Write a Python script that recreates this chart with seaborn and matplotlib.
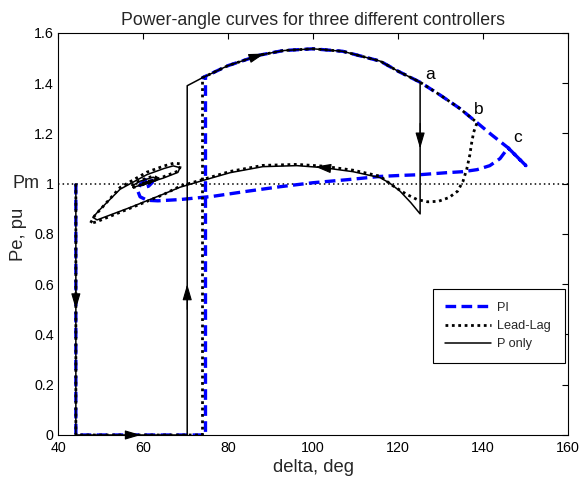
import numpy as np
import pandas as pd
import matplotlib
matplotlib.use("Agg")
import matplotlib.pyplot as plt
import seaborn as sns

# ---------------- data ----------------
start_delta = 44.2
start_pe = 1.0
jump_delta_p = 70.4
jump_delta_ll = 74.0
jump_delta_pi = 74.7

# shared post-fault upper curve
upper_delta = [74.0, 80.0, 87.5, 93.0, 100.0, 107.0, 115.8, 120.0, 125.2,
               130.0, 134.5, 138.6, 142.0, 145.9, 150.1]
upper_pe = [1.422, 1.470, 1.512, 1.530, 1.537, 1.527, 1.488, 1.448, 1.404,
            1.352, 1.300, 1.243, 1.195, 1.143, 1.072]

# P only: return path after the switch at a
ponly_ret_delta = [125.2, 123.0, 120.5, 118.0, 115.8, 109.4, 102.4, 96.2, 88.2,
                   80.5, 74.1, 68.7, 64.7, 56.9, 49.2,
                   48.2, 49.9, 54.6, 60.9, 65.0, 67.1, 68.7, 68.2, 64.7, 60.9,
                   57.6, 57.8, 59.3, 62.4, 63.3, 61.5, 59.6, 60.6, 61.6]
ponly_ret_pe = [0.880, 0.925, 0.970, 1.003, 1.024, 1.048, 1.064, 1.072, 1.068,
                1.044, 1.013, 0.986, 0.958, 0.905, 0.856,
                0.866, 0.898, 0.978, 1.036, 1.061, 1.071, 1.064, 1.045, 1.022, 1.002,
                0.985, 0.995, 1.010, 1.026, 1.017, 1.003, 0.996, 1.006, 1.010]

# Lead-Lag: return path after b
ll_ret_delta = [138.6, 137.8, 137.3, 136.9, 136.2, 135.3, 134.0, 132.0, 129.5,
                127.0, 124.5, 122.0, 118.5, 115.8, 109.4, 102.4, 96.2, 88.2,
                80.5, 74.1, 68.7, 64.7, 56.9, 49.0,
                47.6, 48.6, 50.2, 54.6, 60.9, 65.0, 67.3, 68.9, 68.5, 64.7,
                60.9, 57.3, 57.6, 59.3, 62.5, 63.6, 61.6, 59.4, 60.5, 61.8]
ll_ret_pe = [1.243, 1.205, 1.160, 1.115, 1.060, 1.010, 0.970, 0.945, 0.930,
             0.928, 0.937, 0.958, 0.995, 1.030, 1.054, 1.070, 1.077, 1.073,
             1.049, 1.017, 0.990, 0.956, 0.902, 0.848,
             0.842, 0.872, 0.902, 0.985, 1.046, 1.071, 1.082, 1.079, 1.052, 1.027,
             1.005, 0.982, 0.996, 1.013, 1.031, 1.020, 1.003, 0.994, 1.007, 1.012]

# PI: return path after c
pi_ret_delta = [145.9, 144.0, 141.6, 138.6, 135.3, 131.5, 125.2, 120.5, 115.8,
                108.0, 100.0, 92.2, 84.5, 76.5, 68.7, 63.5, 61.0, 59.3, 58.8,
                59.4, 60.6, 62.0, 62.2, 61.3, 60.2, 59.8, 60.6, 61.4]
pi_ret_pe = [1.143, 1.100, 1.072, 1.056, 1.048, 1.044, 1.036, 1.033, 1.029,
             1.016, 1.004, 0.988, 0.970, 0.950, 0.937, 0.932, 0.934, 0.948, 0.970,
             0.998, 1.016, 1.020, 1.005, 0.990, 0.985, 0.998, 1.008, 1.002]

pm_value = 1.0
x_ticks = [40, 60, 80, 100, 120, 140, 160]
y_ticks = [0, 0.2, 0.4, 0.6, 0.8, 1.0, 1.2, 1.4, 1.6]
y_tick_labels = ["0", "0.2", "0.4", "0.6", "0.8", "1", "1.2", "1.4", "1.6"]

point_labels = ["a", "b", "c"]
point_label_delta = [127.6, 138.9, 148.2]
point_label_pe = [1.435, 1.295, 1.185]

# direction arrows: (delta_from, pe_from, delta_to, pe_to)
arrow_from_delta = [44.2, 56.5, 70.4, 85.5, 103.5, 125.2]
arrow_from_pe = [0.60, 0.0, 0.50, 1.501, 1.062, 1.24]
arrow_to_delta = [44.2, 59.5, 70.4, 88.6, 100.5, 125.2]
arrow_to_pe = [0.50, 0.0, 0.60, 1.518, 1.068, 1.14]

# ---------------- build series ----------------
def build(jump_delta, upper_end, ret_d, ret_p):
    d = [start_delta, start_delta, jump_delta, jump_delta]
    p = [start_pe, 0.0, 0.0, 1.390 if jump_delta < upper_delta[0] else upper_pe[0]]
    for ud, up in zip(upper_delta, upper_pe):
        if ud <= upper_end + 1e-9:
            d.append(ud)
            p.append(up)
    d += list(ret_d)
    p += list(ret_p)
    return pd.DataFrame({"delta": d, "pe": p})

df_pi = build(jump_delta_pi, 150.1, pi_ret_delta, pi_ret_pe)
df_ll = build(jump_delta_ll, 138.6, ll_ret_delta, ll_ret_pe)
df_p = build(jump_delta_p, 125.2, ponly_ret_delta, ponly_ret_pe)

# ---------------- style ----------------
sns.set_style("white")
plt.rcParams["font.family"] = ["Liberation Sans", "DejaVu Sans"]
plt.rcParams["axes.edgecolor"] = "black"
plt.rcParams["axes.linewidth"] = 0.8

fig = plt.figure(figsize=(5.83, 4.87), dpi=100)
ax = fig.add_axes([0.0995, 0.1068, 0.8748, 0.8255])

ax.axhline(pm_value, color="black", lw=1.1, ls=(0, (1, 2)), zorder=1)

sns.lineplot(data=df_pi, x="delta", y="pe", sort=False, estimator=None, ax=ax,
             color="#0000ff", lw=2.4, label="PI", zorder=2)
ax.lines[-1].set_dashes((3.2, 1.6))
sns.lineplot(data=df_ll, x="delta", y="pe", sort=False, estimator=None, ax=ax,
             color="black", lw=2.0, label="Lead-Lag", zorder=3)
ax.lines[-1].set_dashes((1, 1.3))
sns.lineplot(data=df_p, x="delta", y="pe", sort=False, estimator=None, ax=ax,
             color="black", lw=1.1, label="P only", zorder=4)

for x0, y0, x1, y1 in zip(arrow_from_delta, arrow_from_pe, arrow_to_delta, arrow_to_pe):
    ax.annotate("", xy=(x1, y1), xytext=(x0, y0),
                arrowprops=dict(arrowstyle="-|>,head_length=0.75,head_width=0.22",
                                color="black", lw=0.8, mutation_scale=13,
                                shrinkA=0, shrinkB=0), zorder=5)

for lab, lx, ly in zip(point_labels, point_label_delta, point_label_pe):
    ax.text(lx, ly, lab, fontsize=12.5, ha="center", va="center", color="black")

ax.set_xlim(40, 160)
ax.set_ylim(0, 1.6)
ax.set_xticks(x_ticks)
ax.set_xticklabels([str(t) for t in x_ticks])
ax.set_yticks(y_ticks)
ax.set_yticklabels(y_tick_labels)
ax.tick_params(direction="in", top=True, right=True, length=4, width=0.8,
               labelsize=10.3, colors="black")
ax.tick_params(axis="x", pad=4.5)
ax.tick_params(axis="y", pad=3)
for s in ax.spines.values():
    s.set_visible(True)
    s.set_color("black")
    s.set_linewidth(0.8)

ax.annotate("Pm", xy=(0, pm_value), xycoords=("axes fraction", "data"),
            xytext=(-13, 0), textcoords="offset points", ha="right", va="center",
            fontsize=13)

ax.set_xlabel("delta, deg", fontsize=13.3, labelpad=3)
ax.set_ylabel("Pe, pu", fontsize=13.3, labelpad=5)
ax.set_title("Power-angle curves for three different controllers", fontsize=12.8, pad=6)

leg = ax.legend(loc="upper left", bbox_to_anchor=(0.735, 0.174, 0.259, 0.188),
                mode="expand", fontsize=9.2,
                frameon=True, fancybox=False, edgecolor="black", framealpha=1,
                handlelength=3.6, borderpad=0.95, labelspacing=0.5, handletextpad=0.5,
                borderaxespad=0)
leg.get_frame().set_linewidth(0.8)

fig.savefig("out.png", dpi=100)
